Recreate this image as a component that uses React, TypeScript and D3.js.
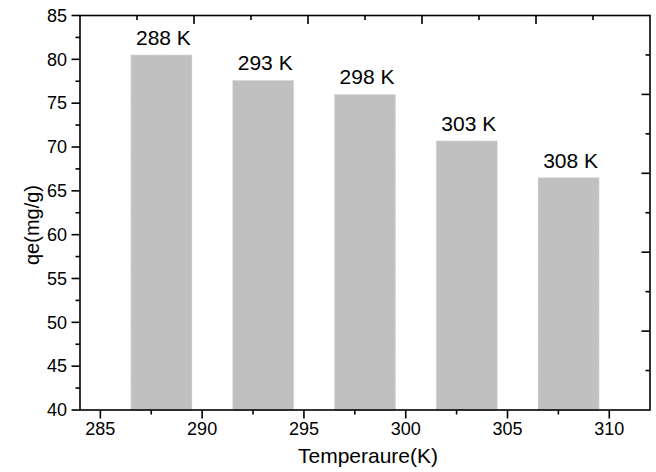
import React from 'react';
import * as d3 from 'd3';

// Equilibrium adsorption capacity at each temperature
const temperatures = [288, 293, 298, 303, 308];
const qeValues = [80.5, 77.6, 76.0, 70.7, 66.5];
const barLabels = ['288 K', '293 K', '298 K', '303 K', '308 K'];

const xTickValues = [285, 290, 295, 300, 305, 310];
const xMinorValues = [287.5, 292.5, 297.5, 302.5, 307.5];
const yTickValues = [40, 45, 50, 55, 60, 65, 70, 75, 80, 85];
const yMinorValues = [42.5, 47.5, 52.5, 57.5, 62.5, 67.5, 72.5, 77.5, 82.5];

const xTitle = 'Temperaure(K)';
const yTitle = 'qe(mg/g)';

const W = 656;
const H = 472;
const left = 80;
const right = 650;
const top = 15.5;
const bottom = 410;
const barWidthUnits = 3;
const font = 'Arial, "Liberation Sans", Helvetica, sans-serif';

export default function App() {
  const x = d3.scaleLinear().domain([284, 312]).range([left, right]);
  const y = d3.scaleLinear().domain([40, 85]).range([bottom, top]);
  // frame axes on top and right carry their own evenly spaced ticks
  const xFrame = d3.scaleLinear().domain([0, 10]).range([left, right]);
  const yFrame = d3.scaleLinear().domain([0, 10]).range([bottom, top]);
  const frameTicks = d3.range(1, 10);

  const major = 8.5;
  const minor = 4.5;
  const sw = 1.6;

  return (
    <svg
      width={W}
      height={H}
      style={{ position: 'absolute', left: 0, top: 0, background: '#fff' }}
      fontFamily={font}
    >
      <rect x={0} y={0} width={W} height={H} fill="#fff" />

      {/* bars */}
      {temperatures.map((t, i) => {
        const x0 = x(t - barWidthUnits / 2);
        const x1 = x(t + barWidthUnits / 2);
        return (
          <g key={t}>
            <rect
              x={x0}
              y={y(qeValues[i])}
              width={x1 - x0}
              height={y(40) - y(qeValues[i])}
              fill="#c0c0c0"
              stroke="#dcdcdc"
              strokeWidth={0.8}
              strokeDasharray="2,1.5"
            />
            <text
              x={x(t) + 2}
              y={y(qeValues[i]) - 10}
              fontSize={21}
              textAnchor="middle"
              fill="#000"
            >
              {barLabels[i]}
            </text>
          </g>
        );
      })}

      {/* frame */}
      <rect
        x={left}
        y={top}
        width={right - left}
        height={bottom - top}
        fill="none"
        stroke="#000"
        strokeWidth={sw}
      />

      {/* bottom axis */}
      {xTickValues.map((v) => (
        <g key={'xt' + v}>
          <line x1={x(v)} x2={x(v)} y1={bottom} y2={bottom + major} stroke="#000" strokeWidth={sw} />
          <text x={x(v)} y={bottom + 25} fontSize={18} textAnchor="middle" fill="#000">
            {v}
          </text>
        </g>
      ))}
      {xMinorValues.map((v) => (
        <line key={'xm' + v} x1={x(v)} x2={x(v)} y1={bottom} y2={bottom + minor} stroke="#000" strokeWidth={sw} />
      ))}

      {/* left axis */}
      {yTickValues.map((v) => (
        <g key={'yt' + v}>
          <line x1={left - major} x2={left} y1={y(v)} y2={y(v)} stroke="#000" strokeWidth={sw} />
          <text
            x={left - 13}
            y={y(v)}
            dy="0.35em"
            fontSize={18}
            textAnchor="end"
            fill="#000"
          >
            {v}
          </text>
        </g>
      ))}
      {yMinorValues.map((v) => (
        <line key={'ym' + v} x1={left - minor} x2={left} y1={y(v)} y2={y(v)} stroke="#000" strokeWidth={sw} />
      ))}

      {/* top frame ticks (inward) */}
      {frameTicks.map((v) => (
        <line
          key={'tt' + v}
          x1={xFrame(v)}
          x2={xFrame(v)}
          y1={top}
          y2={top + (v % 2 === 0 ? major : minor)}
          stroke="#000"
          strokeWidth={sw}
        />
      ))}

      {/* right frame ticks (inward) */}
      {frameTicks.map((v) => (
        <line
          key={'rt' + v}
          x1={right - (v % 2 === 0 ? major : minor)}
          x2={right}
          y1={yFrame(v)}
          y2={yFrame(v)}
          stroke="#000"
          strokeWidth={sw}
        />
      ))}

      {/* axis titles */}
      <text x={(left + right) / 2 + 3} y={463} fontSize={21} textAnchor="middle" fill="#000">
        {xTitle}
      </text>
      <text
        transform={`translate(39, ${225}) rotate(-90)`}
        fontSize={20}
        textAnchor="middle"
        fill="#000"
      >
        {yTitle}
      </text>
    </svg>
  );
}
